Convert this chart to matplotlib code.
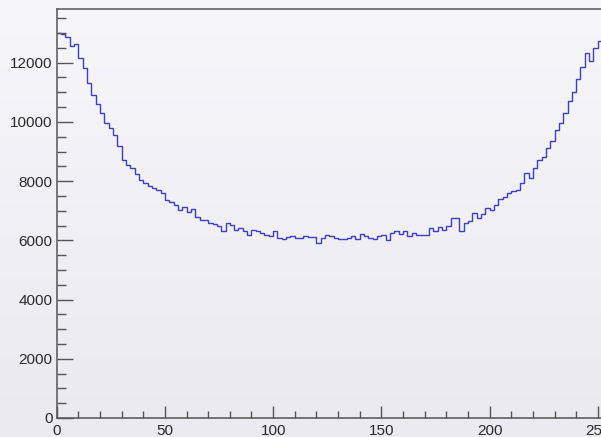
import numpy as np
import matplotlib.pyplot as plt
from matplotlib.ticker import MultipleLocator

plt.rcParams['font.family'] = ['Liberation Sans', 'DejaVu Sans']

# Histogram: 128 bins of width 2 over [0, 256]
bin_edges = np.arange(0, 257, 2)
counts = [
    12990, 12960, 12880, 12560, 12640, 12150, 11830, 11300, 10900, 10600,
    10300, 9950, 9800, 9550, 9170, 8700, 8550, 8440, 8250, 8050,
    7930, 7850, 7760, 7710, 7600, 7370, 7310, 7200, 7030, 7140,
    6970, 7050, 6800, 6690, 6690, 6580, 6540, 6480, 6300, 6580,
    6520, 6350, 6410, 6300, 6185, 6355, 6300, 6240, 6185, 6130,
    6330, 6070, 6050, 6100, 6130, 6070, 6070, 6130, 6100, 6100,
    5900, 6070, 6185, 6130, 6070, 6060, 6050, 6070, 6130, 6050,
    6210, 6160, 6070, 6050, 6130, 6165, 6020, 6240, 6320, 6200,
    6320, 6150, 6250, 6165, 6170, 6190, 6410, 6300, 6450, 6355,
    6470, 6770, 6750, 6300, 6600, 6660, 6920, 6770, 6900, 7100,
    7030, 7200, 7390, 7450, 7590, 7650, 7710, 7930, 8270, 8100,
    8440, 8720, 8800, 9120, 9350, 9730, 9960, 10300, 10690, 11000,
    11450, 11870, 12330, 12050, 12500, 12720, 12780, 12850,
]

fig = plt.figure(figsize=(6.01, 4.37), dpi=100)

# soft vertical gradient behind everything
bg = fig.add_axes([0, 0, 1, 1], zorder=-1)
grad = np.linspace(0, 1, 256)[:, None]
top_c = np.array([247, 247, 250]) / 255.0
bot_c = np.array([234, 234, 239]) / 255.0
img = top_c * (1 - grad[..., None]) + bot_c * grad[..., None]
bg.imshow(img, aspect='auto', extent=[0, 1, 0, 1])
bg.axis('off')

ax = fig.add_axes([0.0943, 0.0435, 0.922, 0.935])
ax.patch.set_alpha(0)

ax.stairs(counts, bin_edges, baseline=None, color='#3d3dc8', linewidth=1.0)

ax.set_xlim(0, 256)
ax.set_ylim(0, 13800)

ax.xaxis.set_major_locator(MultipleLocator(50))
ax.xaxis.set_minor_locator(MultipleLocator(10))
ax.yaxis.set_major_locator(MultipleLocator(2000))
ax.yaxis.set_minor_locator(MultipleLocator(500))

ax.tick_params(axis='both', which='both', direction='in', colors='#555555',
               labelcolor='#2a2a2a', labelsize=11, width=1.0)
ax.tick_params(axis='y', which='major', length=11.5, pad=3)
ax.tick_params(axis='y', which='minor', length=6.5)
ax.tick_params(axis='x', which='major', length=8.6, pad=4.5)
ax.tick_params(axis='x', which='minor', length=4.7)

for side in ['left', 'bottom', 'top', 'right']:
    ax.spines[side].set_color('#555555')
    ax.spines[side].set_linewidth(1.1)

fig.savefig('out.png', dpi=100)
